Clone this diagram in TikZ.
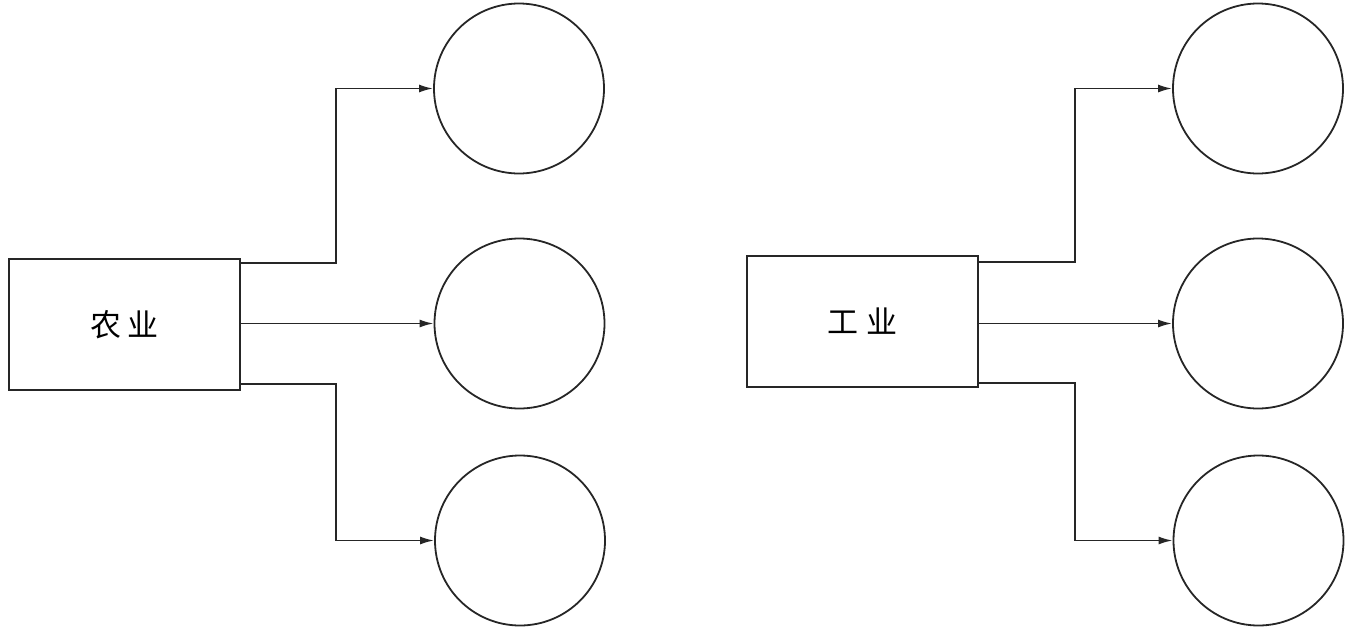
\documentclass[tikz,border=0pt]{standalone}
\usepackage{fontspec}
\newfontfamily\cjk{Noto Sans CJK SC}
\usetikzlibrary{arrows.meta}
\begin{document}
\begin{tikzpicture}[x=1pt,y=-1pt,
  line width=1.8pt, draw=black!85,
  boxnode/.style={draw, rectangle, minimum width=231pt, minimum height=131pt, inner sep=0pt, font=\cjk\fontsize{31}{33}\selectfont},
  circnode/.style={draw, circle, minimum size=170pt, inner sep=0pt},
  arr/.style={-{Latex[length=14pt,width=8pt]}}]
\useasboundingbox (0,0) rectangle (1361,632);
% left group
\node[boxnode] (lbox) at (124.5,324.5) {农\hspace{7pt}业};
\node[circnode] (lc1) at (519,88.5) {};
\node[circnode] (lc2) at (519.5,323.5) {};
\node[circnode] (lc3) at (520,540.5) {};
\coordinate (lj) at (336,324);
\draw[arr] ([yshift=-5pt]lbox.north east) -| (lj |- lc1) -- (lc1.west);
\draw[arr] (lbox.east |- lc2) -- (lc2.west);
\draw[arr] ([yshift=7pt]lbox.south east) -| (lj |- lc3) -- (lc3.west);
% right group
\node[boxnode] (rbox) at (862.5,321.5) {工\hspace{9pt}业};
\node[circnode] (rc1) at (1258,88.5) {};
\node[circnode] (rc2) at (1258,323.5) {};
\node[circnode] (rc3) at (1258.5,540.5) {};
\coordinate (rj) at (1075,324);
\draw[arr] ([yshift=-7pt]rbox.north east) -| (rj |- rc1) -- (rc1.west);
\draw[arr] (rbox.east |- rc2) -- (rc2.west);
\draw[arr] ([yshift=5pt]rbox.south east) -| (rj |- rc3) -- (rc3.west);
\end{tikzpicture}
\end{document}
